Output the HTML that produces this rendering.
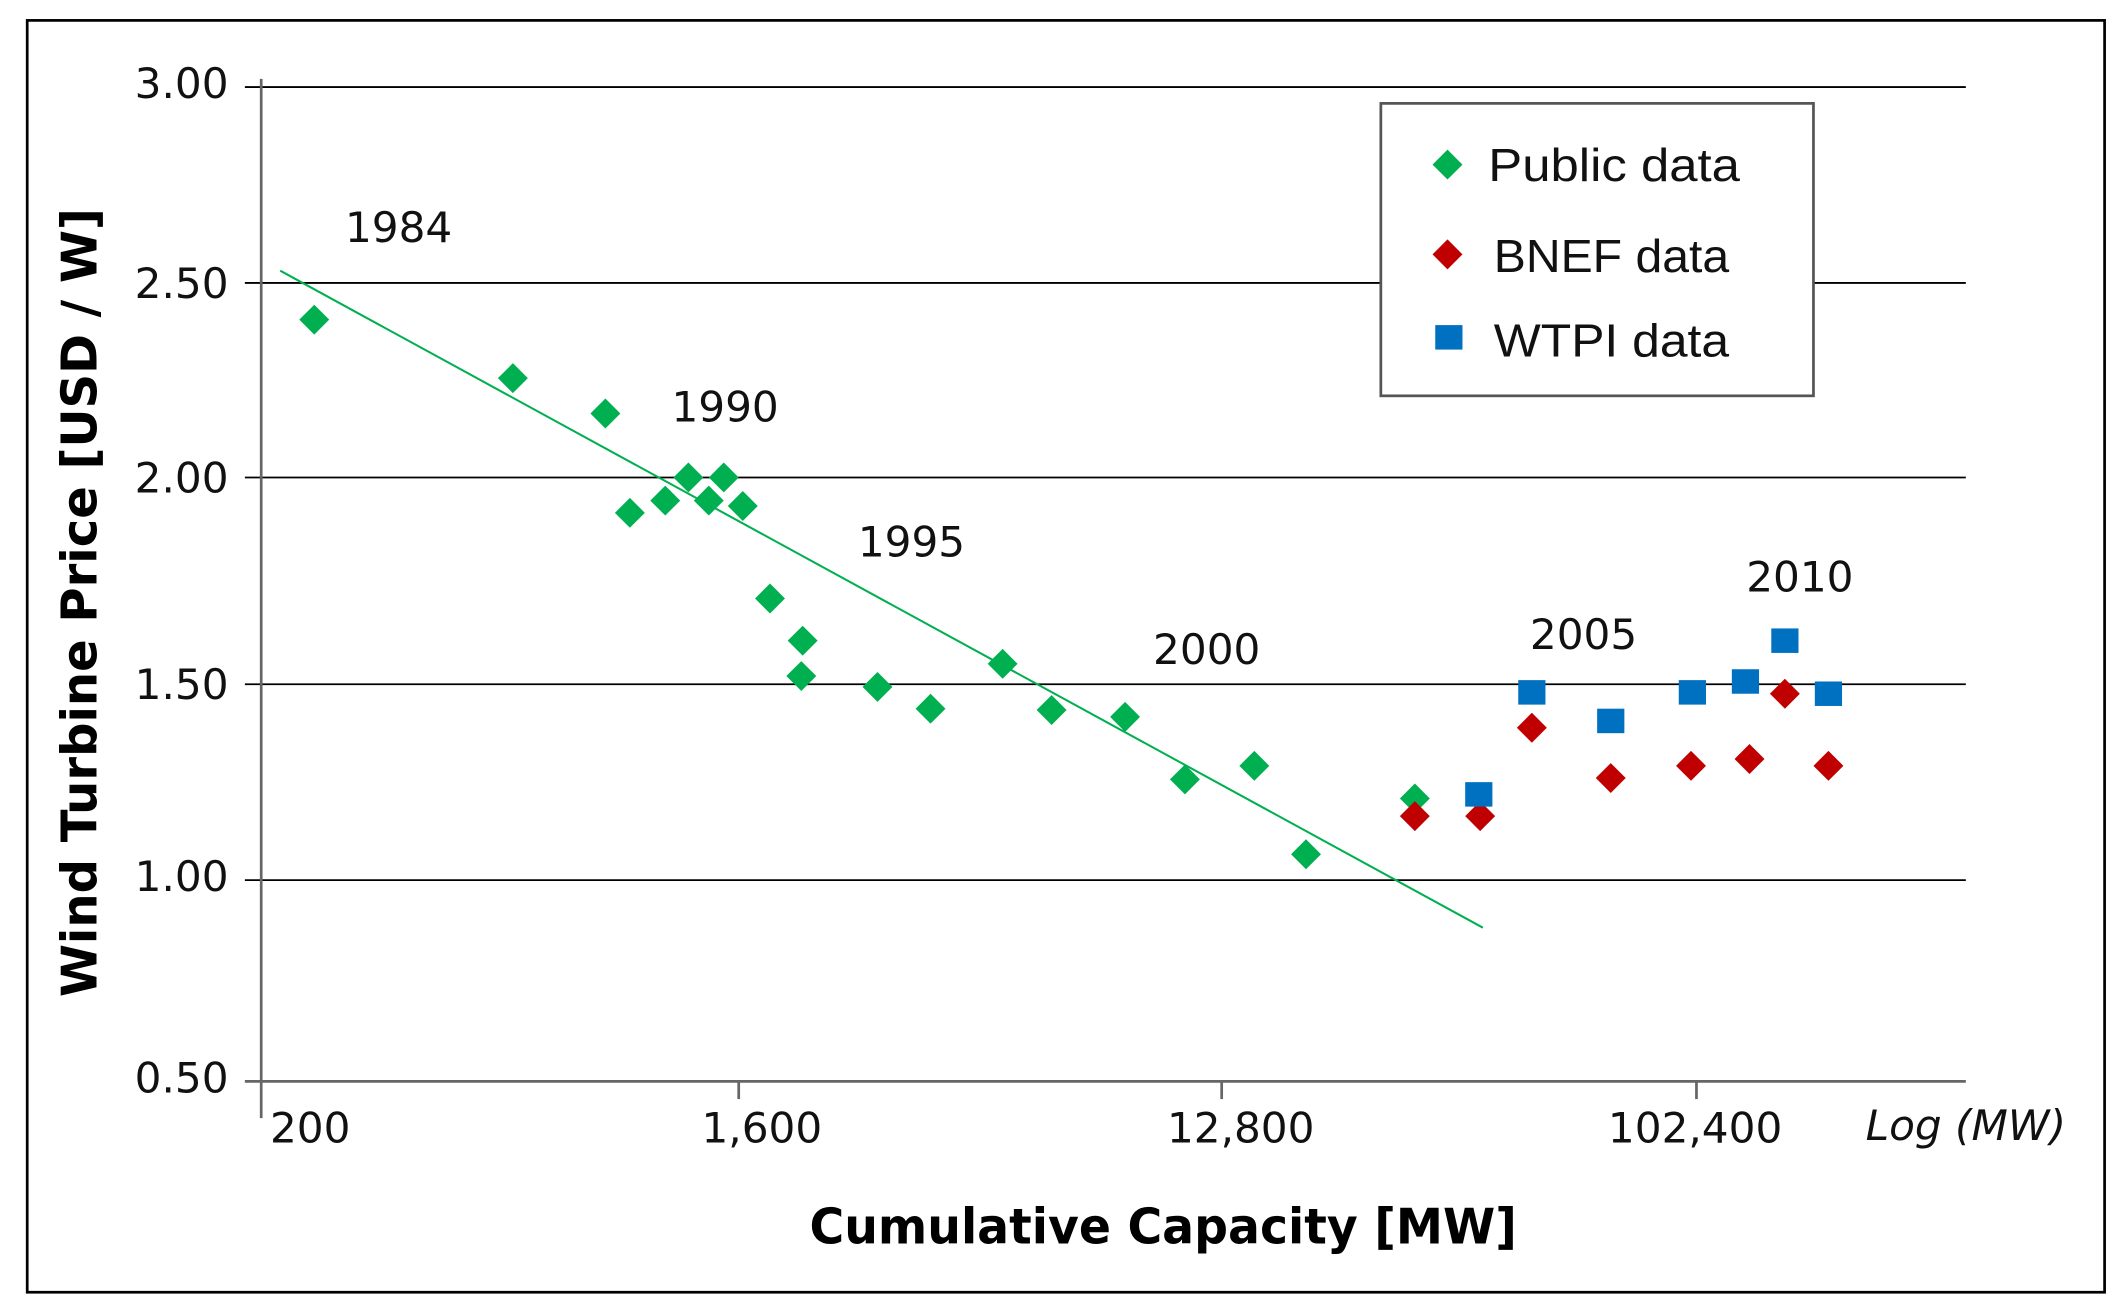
<!DOCTYPE html>
<html><head><meta charset="utf-8"><style>html,body{margin:0;padding:0;background:#fff}svg{display:block}</style></head>
<body>
<svg width="2125" height="1314" viewBox="0 0 1562 966" preserveAspectRatio="none" xmlns="http://www.w3.org/2000/svg">
<defs>
<path id="dg" d="M0,-11 L11,0 L0,11 L-11,0Z" fill="#00b050"/>
<path id="dr" d="M0,-11 L11,0 L0,11 L-11,0Z" fill="#c00000"/>
<rect id="sb" x="-10" y="-9" width="20" height="18" fill="#0070c0"/>
</defs>
<rect x="20" y="15" width="1527" height="935" fill="#fff" stroke="#000" stroke-width="2"/>
<g stroke="#000" stroke-width="1.3">
<line x1="180" y1="64" x2="1445" y2="64"/>
<line x1="180" y1="208" x2="1445" y2="208"/>
<line x1="180" y1="351" x2="1445" y2="351"/>
<line x1="180" y1="503" x2="1445" y2="503"/>
<line x1="180" y1="647" x2="1445" y2="647"/>
</g>
<g stroke="#666" stroke-width="2">
<line x1="180" y1="795" x2="1445" y2="795"/>
<line x1="192" y1="58" x2="192" y2="822"/>
<line x1="543" y1="795" x2="543" y2="808"/>
<line x1="898" y1="795" x2="898" y2="808"/>
<line x1="1247" y1="795" x2="1247" y2="808"/>
</g>
<g font-family="DejaVu Sans, sans-serif" font-size="31" fill="#111" text-anchor="end">
<text x="168" y="72">3.00</text>
<text x="168" y="219">2.50</text>
<text x="168" y="362">2.00</text>
<text x="168" y="514">1.50</text>
<text x="168" y="655">1.00</text>
<text x="168" y="803">0.50</text>
</g>
<g font-family="DejaVu Sans, sans-serif" font-size="31" fill="#111" text-anchor="middle">
<text x="228" y="840">200</text>
<text x="560" y="840">1,600</text>
<text x="912" y="840">12,800</text>
<text x="1246" y="840">102,400</text>
<text x="1445" y="838" font-style="italic">Log (MW)</text>
<text x="293" y="178">1984</text>
<text x="533" y="310">1990</text>
<text x="670" y="409">1995</text>
<text x="887" y="488">2000</text>
<text x="1164" y="477">2005</text>
<text x="1323" y="435">2010</text>
</g>
<text x="855" y="914" font-family="DejaVu Sans, sans-serif" font-weight="bold" font-size="36" text-anchor="middle" textLength="520" lengthAdjust="spacingAndGlyphs">Cumulative Capacity [MW]</text>
<text transform="translate(71,443) rotate(-90)" font-family="DejaVu Sans, sans-serif" font-weight="bold" font-size="36" text-anchor="middle" textLength="580" lengthAdjust="spacingAndGlyphs">Wind Turbine Price [USD / W]</text>
<line x1="206" y1="199" x2="1090" y2="682" stroke="#00b050" stroke-width="1.5"/>
<g>
<use href="#dg" x="231" y="235"/><use href="#dg" x="377" y="278"/><use href="#dg" x="445" y="304"/>
<use href="#dg" x="463" y="377"/><use href="#dg" x="489" y="368"/><use href="#dg" x="506" y="351"/>
<use href="#dg" x="521" y="368"/><use href="#dg" x="532" y="351"/><use href="#dg" x="546" y="372"/>
<use href="#dg" x="566" y="440"/><use href="#dg" x="590" y="471"/><use href="#dg" x="589" y="497"/>
<use href="#dg" x="645" y="505"/><use href="#dg" x="684" y="521"/><use href="#dg" x="737" y="488"/>
<use href="#dg" x="773" y="522"/><use href="#dg" x="827" y="527"/><use href="#dg" x="871" y="573"/>
<use href="#dg" x="922" y="563"/><use href="#dg" x="960" y="628"/><use href="#dg" x="1040" y="587"/>
<use href="#dr" x="1040" y="600"/><use href="#dr" x="1088" y="600"/><use href="#dr" x="1126" y="535"/>
<use href="#dr" x="1184" y="572"/><use href="#dr" x="1243" y="563"/><use href="#dr" x="1286" y="558"/>
<use href="#dr" x="1312" y="510"/><use href="#dr" x="1344" y="563"/>
<use href="#sb" x="1087" y="584"/><use href="#sb" x="1126" y="509"/><use href="#sb" x="1184" y="530"/>
<use href="#sb" x="1244" y="509"/><use href="#sb" x="1283" y="501"/><use href="#sb" x="1312" y="471"/>
<use href="#sb" x="1344" y="510"/>
</g>
<rect x="1015" y="76" width="318" height="215" fill="#fff" stroke="#555" stroke-width="2"/>
<use href="#dg" x="1064" y="121"/>
<use href="#dr" x="1064" y="187"/>
<use href="#sb" x="1065" y="248"/>
<g font-family="Liberation Sans, sans-serif" font-size="34" fill="#111">
<text x="1094" y="133" textLength="185" lengthAdjust="spacingAndGlyphs">Public data</text>
<text x="1098" y="200" textLength="173" lengthAdjust="spacingAndGlyphs">BNEF data</text>
<text x="1098" y="262" textLength="173" lengthAdjust="spacingAndGlyphs">WTPI data</text>
</g>
</svg>
</body></html>
